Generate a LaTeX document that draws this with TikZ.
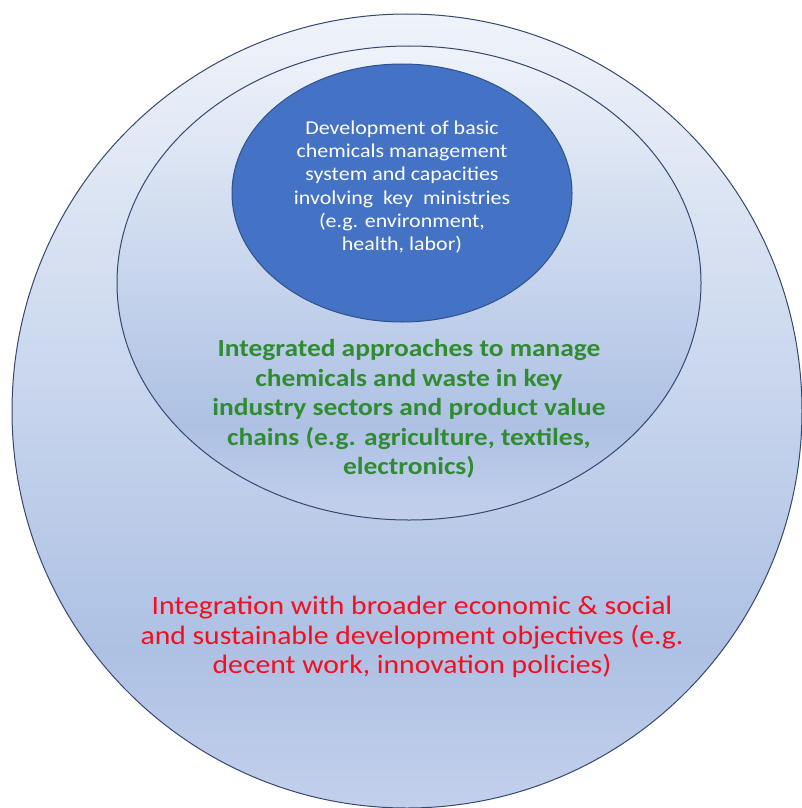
\documentclass[tikz,border=0pt]{standalone}
\usepackage{fontspec}
\setmainfont{Carlito}[FakeStretch=1.12]
\definecolor{ringline}{RGB}{52,72,112}
\definecolor{innerfill}{RGB}{68,114,196}
\definecolor{innerline}{RGB}{47,82,143}
\definecolor{greentext}{RGB}{48,140,48}
\definecolor{redtext}{RGB}{245,15,30}
\pgfdeclareverticalshading{ringshade}{100bp}{%
  rgb(0bp)=(0.765,0.816,0.925);
  rgb(25bp)=(0.765,0.816,0.925);
  rgb(35bp)=(0.680,0.757,0.894);
  rgb(75bp)=(0.937,0.953,0.980);
  rgb(100bp)=(0.937,0.953,0.980)}
\tikzset{
  ring/.style={draw=ringline, line width=1pt, shading=ringshade},
  core/.style={draw=innerline, line width=1pt, fill=innerfill},
  lbl/.style={align=center, inner sep=0pt}
}
\begin{document}
\begin{tikzpicture}[x=1pt,y=-1pt]
\useasboundingbox (0,0) rectangle (801,808);
\path[ring] (407,411) ellipse [x radius=395, y radius=397];
\path[ring] (409,283) ellipse [x radius=292, y radius=237];
\path[core] (402,193) ellipse [x radius=170, y radius=129];
\node[lbl, text=white, font=\fontsize{19.6}{23.2}\selectfont] (core) at (402,187)
  {Development of basic\\chemicals management\\system and capacities\\involving\ \ key\ \ ministries\\(e.g. environment,\\health, labor)};
\node[lbl, text=greentext, font=\fontsize{24.5}{29.5}\selectfont\bfseries] (mid) at (409,409)
  {Integrated approaches to manage\\chemicals and waste in key\\industry sectors and product value\\chains (e.g. agriculture, textiles,\\electronics)};
\node[lbl, text=redtext, font=\fontsize{26.5}{29.2}\selectfont] (outer) at (412,637)
  {Integration with broader economic \& social\\and sustainable development objectives (e.g.\\decent work, innovation policies)};
\end{tikzpicture}
\end{document}
